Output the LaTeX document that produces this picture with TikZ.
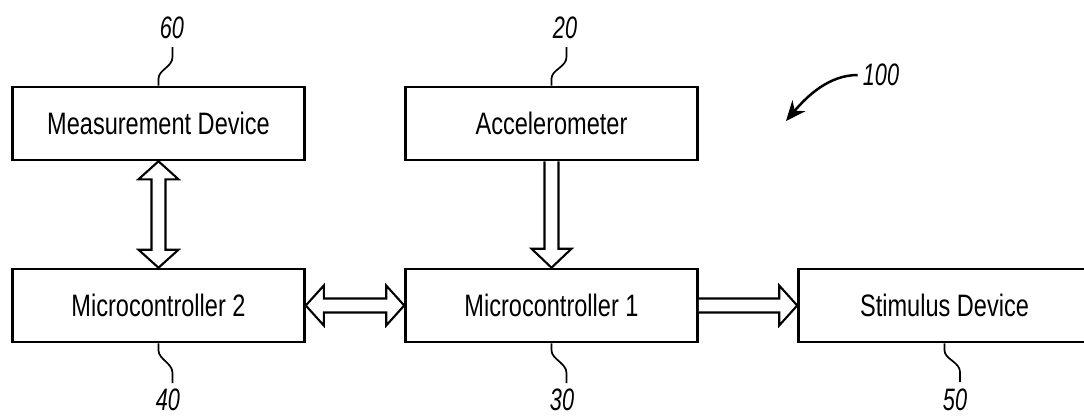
\documentclass[tikz,border=0pt]{standalone}
\usepackage{fontspec}
\setmainfont{Liberation Sans}[FakeStretch=0.76]
\newfontfamily\numfont{Liberation Sans}[FakeStretch=0.7]
\usetikzlibrary{calc,arrows.meta}
\begin{document}
\begin{tikzpicture}[x=1pt,y=-1pt,
  blockbox/.style={draw, line width=2.6pt, minimum width=292pt, minimum height=73pt,
    inner sep=0pt, font=\fontsize{31}{33}\selectfont},
  numlabel/.style={inner sep=0pt, font=\numfont\itshape\fontsize{31}{33}\selectfont},
  leader/.style={line width=1.7pt},
  hollow/.style={draw, line width=2.1pt, fill=white, line join=miter}
]
\useasboundingbox (0,0) rectangle (1084,416);

\node[blockbox] (md)  at (158.5,123.5) {Measurement Device};
\node[blockbox] (acc) at (551.5,123.5) {Accelerometer};
\node[blockbox] (mc2) at (158.5,305.5) {Microcontroller 2};
\node[blockbox] (mc1) at (551.5,305.5) {Microcontroller 1};
\node[blockbox] (sd)  at (944.5,305.5) {Stimulus Device};

% vertical double arrow md <-> mc2
\draw[hollow] (md.south) -- ($(md.south)+(20,18)$) -- ($(md.south)+(7,18)$)
  -- ($(mc2.north)+(7,-18)$) -- ($(mc2.north)+(20,-18)$) -- (mc2.north)
  -- ($(mc2.north)+(-20,-18)$) -- ($(mc2.north)+(-7,-18)$)
  -- ($(md.south)+(-7,18)$) -- ($(md.south)+(-20,18)$) -- cycle;

% vertical single arrow acc -> mc1
\draw[hollow] ($(acc.south)+(7,0)$) -- ($(mc1.north)+(7,-19)$) -- ($(mc1.north)+(20,-19)$)
  -- (mc1.north) -- ($(mc1.north)+(-20,-19)$) -- ($(mc1.north)+(-7,-19)$)
  -- ($(acc.south)+(-7,0)$);

% horizontal double arrow mc2 <-> mc1
\draw[hollow] (mc2.east) -- ($(mc2.east)+(18,-20)$) -- ($(mc2.east)+(18,-7)$)
  -- ($(mc1.west)+(-18,-7)$) -- ($(mc1.west)+(-18,-20)$) -- (mc1.west)
  -- ($(mc1.west)+(-18,20)$) -- ($(mc1.west)+(-18,7)$)
  -- ($(mc2.east)+(18,7)$) -- ($(mc2.east)+(18,20)$) -- cycle;

% horizontal single arrow mc1 -> sd
\draw[hollow] ($(mc1.east)+(0,-7)$) -- ($(sd.west)+(-18,-7)$) -- ($(sd.west)+(-18,-20)$)
  -- (sd.west) -- ($(sd.west)+(-18,20)$) -- ($(sd.west)+(-18,7)$)
  -- ($(mc1.east)+(0,7)$);

% reference numerals
\node[numlabel] (n60) at (172,28) {60};
\node[numlabel] (n20) at (565,28) {20};
\node[numlabel] (n40) at (168,400) {40};
\node[numlabel] (n30) at (562,400) {30};
\node[numlabel] (n50) at (955,400) {50};
\node[numlabel] (n100) at (881,75) {100};

\coordinate (e60) at (172.5,47);
\coordinate (e20) at (566.5,47);
\coordinate (e40) at (172.5,383);
\coordinate (e30) at (566.5,383);
\coordinate (e50) at (960,382);
\coordinate (t100) at (786,121);

\draw[leader] (md.north) -- ++(0,-7) .. controls ++(0,-9) and ++(0,10) .. ($(e60)+(0,10)$) -- (e60);
\draw[leader] (acc.north) -- ++(0,-7) .. controls ++(0,-9) and ++(0,10) .. ($(e20)+(0,10)$) -- (e20);
\draw[leader] (mc2.south) -- ++(0,7) .. controls ++(0,9) and ++(0,-10) .. ($(e40)+(0,-10)$) -- (e40);
\draw[leader] (mc1.south) -- ++(0,7) .. controls ++(0,9) and ++(0,-10) .. ($(e30)+(0,-10)$) -- (e30);
\draw[leader] (sd.south) -- ++(0,7) .. controls ++(0,9) and ++(0,-10) .. ($(e50)+(0,-10)$) -- (e50);

\draw[line width=2.5pt, -{Stealth[length=20pt,width=17pt]}]
  ($(n100.west)+(-5,0)$) .. controls +(-28,0) and +(22,-26) .. (t100);
\end{tikzpicture}
\end{document}
